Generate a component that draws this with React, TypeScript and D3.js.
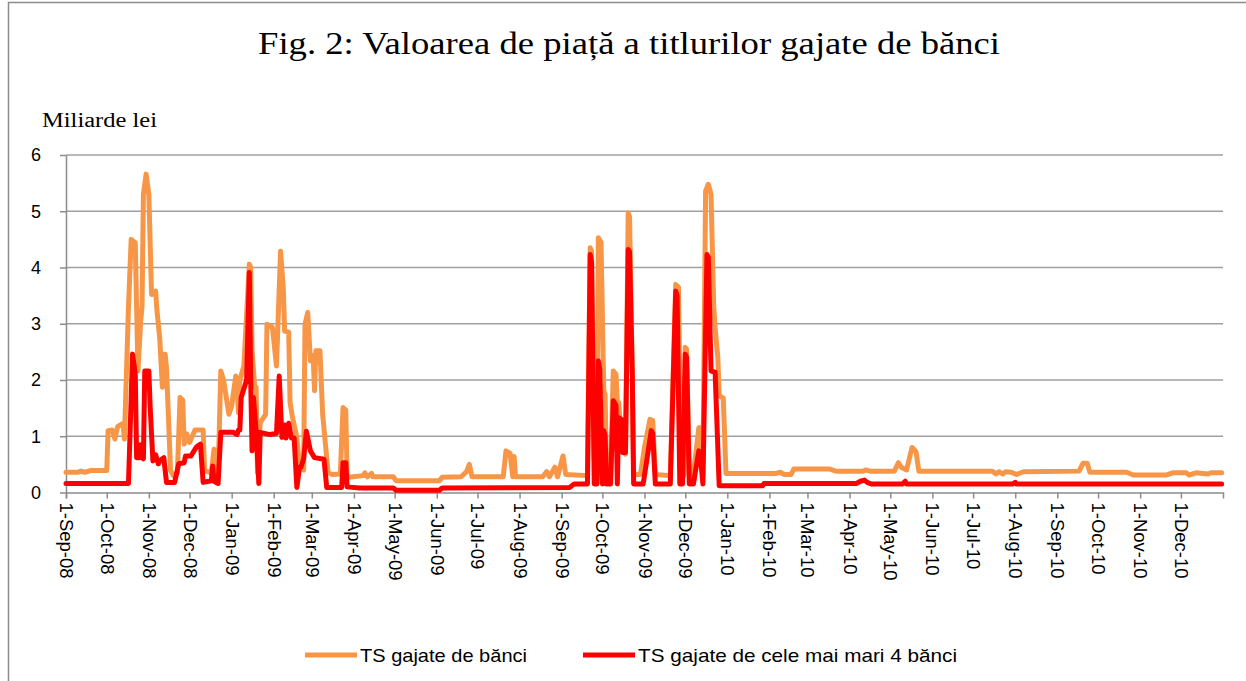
import * as d3 from "d3";
import { useEffect, useRef } from "react";

// TS gajate de bănci (miliarde lei)
const totalBanks: [string, number][] = [
  ["2008-09-01", 0.36], ["2008-09-10", 0.36], ["2008-09-12", 0.38], ["2008-09-15", 0.36],
  ["2008-09-19", 0.39], ["2008-10-01", 0.39], ["2008-10-02", 1.1], ["2008-10-05", 1.11],
  ["2008-10-07", 0.95], ["2008-10-09", 1.17], ["2008-10-13", 1.23], ["2008-10-14", 0.95],
  ["2008-10-17", 3.29], ["2008-10-19", 4.5], ["2008-10-22", 4.44], ["2008-10-24", 2.16],
  ["2008-10-26", 3.05], ["2008-10-27", 3.31], ["2008-10-28", 5.3], ["2008-10-30", 5.66],
  ["2008-11-01", 5.3], ["2008-11-03", 3.52], ["2008-11-06", 3.58], ["2008-11-07", 3.23],
  ["2008-11-09", 2.75], ["2008-11-11", 1.87], ["2008-11-12", 2.46], ["2008-11-13", 2.46],
  ["2008-11-14", 2.22], ["2008-11-17", 0.39], ["2008-11-19", 0.3], ["2008-11-22", 0.35],
  ["2008-11-24", 1.69], ["2008-11-26", 1.64], ["2008-11-27", 0.86], ["2008-11-29", 1.04],
  ["2008-12-01", 0.89], ["2008-12-05", 1.11], ["2008-12-11", 1.11], ["2008-12-12", 0.39],
  ["2008-12-17", 0.35], ["2008-12-19", 0.77], ["2008-12-20", 0.35], ["2008-12-22", 0.3],
  ["2008-12-24", 2.16], ["2008-12-26", 2.0], ["2008-12-30", 1.39], ["2009-01-01", 1.54],
  ["2009-01-04", 2.07], ["2009-01-05", 1.86], ["2009-01-06", 1.42], ["2009-01-07", 2.0],
  ["2009-01-10", 2.25], ["2009-01-14", 4.06], ["2009-01-15", 4.0], ["2009-01-16", 2.52],
  ["2009-01-18", 1.87], ["2009-01-19", 1.87], ["2009-01-20", 0.35], ["2009-01-22", 1.24],
  ["2009-01-26", 1.39], ["2009-01-27", 2.99], ["2009-01-31", 2.94], ["2009-02-03", 2.25],
  ["2009-02-06", 4.29], ["2009-02-08", 3.64], ["2009-02-09", 2.87], ["2009-02-12", 2.85],
  ["2009-02-13", 1.6], ["2009-02-15", 1.31], ["2009-02-18", 0.98], ["2009-02-20", 0.45],
  ["2009-02-23", 0.4], ["2009-02-24", 2.99], ["2009-02-26", 3.2], ["2009-02-28", 2.34],
  ["2009-03-02", 2.43], ["2009-03-03", 1.81], ["2009-03-04", 2.52], ["2009-03-07", 2.52],
  ["2009-03-09", 1.39], ["2009-03-13", 0.35], ["2009-03-16", 0.32], ["2009-03-22", 0.33],
  ["2009-03-24", 1.51], ["2009-03-26", 1.47], ["2009-03-27", 0.32], ["2009-03-28", 0.27],
  ["2009-04-08", 0.3], ["2009-04-09", 0.35], ["2009-04-11", 0.28], ["2009-04-14", 0.34],
  ["2009-04-15", 0.28], ["2009-04-30", 0.28], ["2009-05-02", 0.21], ["2009-06-03", 0.21],
  ["2009-06-05", 0.27], ["2009-06-19", 0.28], ["2009-06-23", 0.37], ["2009-06-25", 0.5],
  ["2009-06-27", 0.28], ["2009-07-20", 0.28], ["2009-07-22", 0.74], ["2009-07-25", 0.7],
  ["2009-07-27", 0.28], ["2009-07-28", 0.64], ["2009-07-29", 0.28], ["2009-08-18", 0.28],
  ["2009-08-21", 0.37], ["2009-08-23", 0.28], ["2009-08-27", 0.45], ["2009-08-29", 0.28],
  ["2009-09-02", 0.65], ["2009-09-04", 0.32], ["2009-09-20", 0.3], ["2009-09-22", 4.35],
  ["2009-09-23", 4.3], ["2009-09-25", 0.6], ["2009-09-27", 0.3], ["2009-09-28", 4.53],
  ["2009-09-30", 4.45], ["2009-10-02", 1.81], ["2009-10-03", 1.75], ["2009-10-04", 0.3],
  ["2009-10-07", 0.3], ["2009-10-09", 2.16], ["2009-10-11", 2.1], ["2009-10-12", 1.62],
  ["2009-10-13", 1.6], ["2009-10-15", 0.9], ["2009-10-18", 0.68], ["2009-10-20", 4.97],
  ["2009-10-21", 4.9], ["2009-10-23", 2.1], ["2009-10-24", 0.32], ["2009-10-29", 0.32],
  ["2009-11-01", 0.8], ["2009-11-05", 1.3], ["2009-11-07", 1.28], ["2009-11-09", 0.32],
  ["2009-11-20", 0.3], ["2009-11-24", 3.7], ["2009-11-26", 3.65], ["2009-11-28", 0.3],
  ["2009-11-30", 0.3], ["2009-12-01", 2.58], ["2009-12-02", 2.55], ["2009-12-04", 0.32],
  ["2009-12-07", 0.32], ["2009-12-11", 1.15], ["2009-12-12", 1.15], ["2009-12-14", 0.32],
  ["2009-12-16", 5.36], ["2009-12-18", 5.48], ["2009-12-20", 5.3], ["2009-12-22", 3.3],
  ["2009-12-23", 2.93], ["2009-12-25", 2.4], ["2009-12-26", 1.72], ["2009-12-29", 1.68],
  ["2009-12-31", 0.34], ["2010-02-06", 0.34], ["2010-02-09", 0.36], ["2010-02-12", 0.32],
  ["2010-02-17", 0.32], ["2010-02-19", 0.42], ["2010-03-17", 0.42], ["2010-03-22", 0.38],
  ["2010-04-11", 0.38], ["2010-04-13", 0.4], ["2010-04-16", 0.38], ["2010-05-04", 0.38],
  ["2010-05-07", 0.53], ["2010-05-09", 0.45], ["2010-05-13", 0.4], ["2010-05-17", 0.8],
  ["2010-05-18", 0.78], ["2010-05-20", 0.72], ["2010-05-22", 0.38], ["2010-07-15", 0.38],
  ["2010-07-18", 0.33], ["2010-07-20", 0.37], ["2010-07-23", 0.33], ["2010-07-25", 0.37],
  ["2010-07-29", 0.36], ["2010-08-02", 0.32], ["2010-08-07", 0.37], ["2010-09-17", 0.38],
  ["2010-09-20", 0.52], ["2010-09-23", 0.52], ["2010-09-25", 0.36], ["2010-10-22", 0.36],
  ["2010-10-27", 0.31], ["2010-11-20", 0.31], ["2010-11-25", 0.35], ["2010-12-05", 0.35],
  ["2010-12-07", 0.31], ["2010-12-12", 0.35], ["2010-12-21", 0.33], ["2010-12-23", 0.35],
  ["2010-12-31", 0.35],
];

// TS gajate de cele mai mari 4 bănci (miliarde lei)
const top4Banks: [string, number][] = [
  ["2008-09-01", 0.16], ["2008-10-17", 0.16], ["2008-10-20", 2.46], ["2008-10-22", 2.1],
  ["2008-10-23", 0.62], ["2008-10-25", 0.62], ["2008-10-26", 0.85], ["2008-10-27", 0.62],
  ["2008-10-28", 0.6], ["2008-10-29", 2.16], ["2008-11-01", 2.16], ["2008-11-02", 1.51],
  ["2008-11-04", 0.56], ["2008-11-06", 0.67], ["2008-11-08", 0.51], ["2008-11-09", 0.56],
  ["2008-11-12", 0.62], ["2008-11-14", 0.18], ["2008-11-20", 0.18], ["2008-11-23", 0.51],
  ["2008-11-27", 0.53], ["2008-11-28", 0.65], ["2008-12-02", 0.65], ["2008-12-06", 0.81],
  ["2008-12-09", 0.86], ["2008-12-11", 0.18], ["2008-12-17", 0.21], ["2008-12-18", 0.47],
  ["2008-12-19", 0.2], ["2008-12-22", 0.16], ["2008-12-24", 1.07], ["2009-01-02", 1.07],
  ["2009-01-05", 1.03], ["2009-01-06", 1.11], ["2009-01-07", 1.11], ["2009-01-08", 1.69],
  ["2009-01-12", 2.0], ["2009-01-14", 3.91], ["2009-01-15", 2.0], ["2009-01-16", 0.74],
  ["2009-01-17", 1.69], ["2009-01-19", 1.1], ["2009-01-21", 0.16], ["2009-01-22", 1.07],
  ["2009-01-29", 1.03], ["2009-02-03", 1.05], ["2009-02-05", 2.07], ["2009-02-07", 0.98],
  ["2009-02-09", 1.2], ["2009-02-10", 0.97], ["2009-02-12", 1.23], ["2009-02-14", 0.97],
  ["2009-02-16", 0.97], ["2009-02-18", 0.09], ["2009-02-20", 0.45], ["2009-02-21", 0.45],
  ["2009-02-23", 0.6], ["2009-02-25", 1.09], ["2009-02-28", 0.74], ["2009-03-03", 0.62],
  ["2009-03-10", 0.59], ["2009-03-12", 0.09], ["2009-03-23", 0.09], ["2009-03-24", 0.53],
  ["2009-03-26", 0.53], ["2009-03-27", 0.1], ["2009-04-05", 0.08], ["2009-04-30", 0.08],
  ["2009-05-02", 0.04], ["2009-06-03", 0.04], ["2009-06-05", 0.08], ["2009-09-07", 0.09],
  ["2009-09-10", 0.15], ["2009-09-20", 0.15], ["2009-09-22", 4.23], ["2009-09-23", 4.1],
  ["2009-09-25", 0.15], ["2009-09-27", 0.15], ["2009-09-28", 2.34], ["2009-09-29", 2.2],
  ["2009-10-01", 0.15], ["2009-10-02", 1.1], ["2009-10-03", 1.0], ["2009-10-04", 0.15],
  ["2009-10-07", 0.15], ["2009-10-09", 1.63], ["2009-10-11", 1.55], ["2009-10-12", 0.15],
  ["2009-10-13", 1.33], ["2009-10-15", 1.3], ["2009-10-16", 0.71], ["2009-10-18", 0.71],
  ["2009-10-20", 4.32], ["2009-10-21", 4.28], ["2009-10-23", 2.1], ["2009-10-24", 0.15],
  ["2009-10-31", 0.15], ["2009-11-03", 0.62], ["2009-11-06", 1.1], ["2009-11-07", 1.05],
  ["2009-11-09", 0.15], ["2009-11-20", 0.15], ["2009-11-24", 3.58], ["2009-11-25", 3.5],
  ["2009-11-27", 0.15], ["2009-11-29", 0.15], ["2009-12-01", 2.46], ["2009-12-02", 2.4],
  ["2009-12-04", 0.15], ["2009-12-07", 0.15], ["2009-12-11", 0.74], ["2009-12-12", 0.7],
  ["2009-12-14", 0.15], ["2009-12-17", 4.23], ["2009-12-18", 4.18], ["2009-12-20", 2.16],
  ["2009-12-23", 2.14], ["2009-12-26", 0.12], ["2010-01-27", 0.12], ["2010-01-28", 0.16],
  ["2010-04-06", 0.16], ["2010-04-09", 0.2], ["2010-04-12", 0.22], ["2010-04-14", 0.18],
  ["2010-04-17", 0.15], ["2010-05-10", 0.15], ["2010-05-12", 0.2], ["2010-05-13", 0.15],
  ["2010-07-30", 0.15], ["2010-08-01", 0.18], ["2010-08-02", 0.15], ["2010-12-31", 0.15],
];

const yTicks = [0, 1, 2, 3, 4, 5, 6];
const xDomain = ["2008-09-01", "2011-01-01"];
const seriesNames = ["TS gajate de bănci", "TS gajate de cele mai mari 4 bănci"];
const seriesColors = ["#F79646", "#FF0000"];

const App = () => {
  const ref = useRef<SVGSVGElement>(null);
  const width = 1246;
  const height = 681;

  useEffect(() => {
    const plot = { left: 66, right: 1223, top: 155, bottom: 492.5 };
    const svg = d3.select(ref.current);
    svg.selectAll("*").remove();

    const parse = d3.timeParse("%Y-%m-%d");
    const start = parse(xDomain[0])!;
    const end = parse(xDomain[1])!;

    const xScale = d3.scaleTime().domain([start, end]).range([plot.left, plot.right]);
    const yScale = d3.scaleLinear().domain([0, 6]).range([plot.bottom, plot.top]);

    // outer frame
    svg
      .append("rect")
      .attr("x", 8.5)
      .attr("y", 2.5)
      .attr("width", 1260)
      .attr("height", 700)
      .attr("fill", "white")
      .attr("stroke", "#8c8c8c")
      .attr("stroke-width", 1.5);

    // title
    svg
      .append("text")
      .attr("x", 629)
      .attr("y", 54)
      .attr("text-anchor", "middle")
      .attr("font-family", "'Liberation Serif', 'Times New Roman', serif")
      .attr("font-size", 32)
      .attr("textLength", 742)
      .attr("lengthAdjust", "spacingAndGlyphs")
      .attr("fill", "#000")
      .text("Fig. 2: Valoarea de piață a titlurilor gajate de bănci");

    svg
      .append("text")
      .attr("x", 42)
      .attr("y", 127)
      .attr("font-family", "'Liberation Serif', 'Times New Roman', serif")
      .attr("font-size", 20)
      .attr("textLength", 115)
      .attr("lengthAdjust", "spacingAndGlyphs")
      .attr("fill", "#000")
      .text("Miliarde lei");

    // gridlines
    svg
      .append("g")
      .selectAll("line")
      .data(yTicks.filter((t) => t > 0))
      .join("line")
      .attr("x1", plot.left)
      .attr("x2", plot.right)
      .attr("y1", (d) => yScale(d))
      .attr("y2", (d) => yScale(d))
      .attr("stroke", "#a0a0a0")
      .attr("stroke-width", 1.5);

    // Y axis
    const yAxis = svg
      .append("g")
      .attr("transform", `translate(${plot.left}, 0)`)
      .call(
        d3
          .axisLeft(yScale)
          .tickValues(yTicks)
          .tickFormat(d3.format("d"))
          .tickSize(6)
          .tickSizeOuter(0)
          .tickPadding(19)
      );
    yAxis.select(".domain").attr("stroke", "#8c8c8c").attr("stroke-width", 1.5);
    yAxis.selectAll(".tick line").attr("stroke", "#8c8c8c").attr("stroke-width", 1.5);
    yAxis
      .selectAll(".tick text")
      .attr("font-family", "'Liberation Sans', Arial, sans-serif")
      .attr("font-size", 18)
      .attr("fill", "#000");

    // X axis
    const monthTicks = d3.timeMonth.range(start, end);
    const xAxis = svg
      .append("g")
      .attr("transform", `translate(0, ${plot.bottom})`)
      .call(
        d3
          .axisBottom(xScale)
          .tickValues(monthTicks)
          .tickFormat((d) => d3.timeFormat("%-d-%b-%y")(d as Date))
          .tickSize(6)
          .tickSizeOuter(6)
      );
    xAxis.select(".domain").attr("stroke", "#8c8c8c").attr("stroke-width", 1.5);
    xAxis.selectAll(".tick line").attr("stroke", "#8c8c8c").attr("stroke-width", 1.5);
    xAxis
      .selectAll(".tick text")
      .attr("transform", "rotate(90)")
      .attr("x", 10)
      .attr("y", 0)
      .attr("dy", "0.35em")
      .style("text-anchor", "start")
      .attr("font-family", "'Liberation Sans', Arial, sans-serif")
      .attr("font-size", 18.5)
      .attr("fill", "#000");

    // series
    const line = d3
      .line<[string, number]>()
      .x((d) => xScale(parse(d[0])!))
      .y((d) => yScale(d[1]));

    [totalBanks, top4Banks].forEach((series, i) => {
      svg
        .append("path")
        .datum(series)
        .attr("d", line)
        .attr("fill", "none")
        .attr("stroke", seriesColors[i])
        .attr("stroke-width", 5)
        .attr("stroke-linejoin", "round")
        .attr("stroke-linecap", "round");
    });

    // legend
    const legendX = [305, 583];
    const legendLen = [167, 319];
    seriesNames.forEach((name, i) => {
      const g = svg.append("g").attr("transform", `translate(${legendX[i]}, 655)`);
      g.append("line")
        .attr("x1", 0)
        .attr("x2", 52)
        .attr("y1", 0)
        .attr("y2", 0)
        .attr("stroke", seriesColors[i])
        .attr("stroke-width", 5);
      g.append("text")
        .attr("x", 55)
        .attr("y", 7)
        .attr("font-family", "'Liberation Sans', Arial, sans-serif")
        .attr("font-size", 19)
        .attr("textLength", legendLen[i])
        .attr("lengthAdjust", "spacingAndGlyphs")
        .attr("fill", "#000")
        .text(name);
    });
  }, []);

  return (
    <svg
      ref={ref}
      width={width}
      height={height}
      viewBox={`0 0 ${width} ${height}`}
      style={{ position: "absolute", left: 0, top: 0, background: "white" }}
    ></svg>
  );
};

export default App;
